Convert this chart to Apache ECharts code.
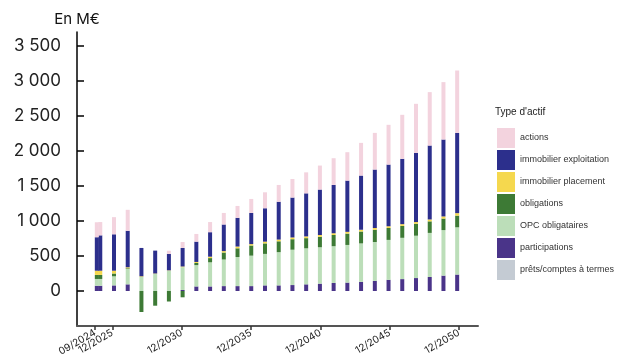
<!DOCTYPE html>
<html><head><meta charset="utf-8">
<script src="https://cdn.jsdelivr.net/npm/echarts@6/dist/echarts.min.js"></script>
<style>html,body{margin:0;padding:0;background:#fff}#c{width:629px;height:361px}</style>
</head><body><div id="c"></div>
<script>
// ---- data ----
const dates = ["09/2024","12/2024","12/2025","12/2026","12/2027","12/2028","12/2029","12/2030",
  "12/2031","12/2032","12/2033","12/2034","12/2035","12/2036","12/2037","12/2038","12/2039","12/2040",
  "12/2041","12/2042","12/2043","12/2044","12/2045","12/2046","12/2047","12/2048","12/2049","12/2050"];
const prets          = [0,0,0,0,0,0,0,0, 0,0,0,0,0,0,0,0,0,0, 0,0,0,0,0,0,0,0,0,0];
const participations = [75,75,80,95,0,0,0,15, 65,65,70,70,70,80,80,85,95,105, 115,120,130,145,160,170,185,200,220,235];
const opcOblig       = [97,97,130,220,200,243,290,325, 305,345,380,415,435,450,475,505,515,520, 525,538,550,555,570,590,605,630,650,675];
const obligations    = [58,58,40,10,-300,-210,-150,-90, 30,60,100,125,145,150,155,150,145,150, 160,162,170,175,170,170,170,165,165,167];
const immoPlacement  = [60,60,40,14,10,7,5,10, 15,20,20,25,20,25,25,25,25,25, 25,25,25,25,25,25,25,27,30,35];
const immoExploit    = [478,505,520,521,405,327,235,265, 290,350,380,410,445,477,540,570,615,649, 690,732,774,835,881,933,988,1056,1099,1147];
const actions        = [214,190,245,300,0,0,45,85, 110,145,165,170,200,228,240,265,300,343, 382,406,467,524,568,629,701,763,820,891];
const tickLabels = ["09/2024","12/2025","12/2030","12/2035","12/2040","12/2045","12/2050"];
const yTicks = [0,500,1000,1500,2000,2500,3000,3500];
const names = ["actions","immobilier exploitation","immobilier placement","obligations","OPC obligataires","participations","prêts/comptes à termes"];

// ---- helpers ----
function toTs(s){ const p = s.split('/').map(Number); return Date.UTC(p[1], p[0], 0); }
function fmtNum(v){ return v >= 1000 ? Math.floor(v/1000) + ' ' + String(v % 1000).padStart(3,'0') : String(v); }
const tickTs = tickLabels.map(toTs);
const xMin = Date.UTC(2023,5,14), xMax = Date.UTC(2052,4,15);

const colors = {
  "actions":"#f3d3de",
  "immobilier exploitation":"#2c2f8c",
  "immobilier placement":"#f5d84e",
  "obligations":"#3d7a35",
  "OPC obligataires":"#bcdeb9",
  "participations":"#4a3489",
  "prêts/comptes à termes":"#c4cbd3"
};
const stackOrder = [
  ["prêts/comptes à termes", prets],
  ["participations", participations],
  ["OPC obligataires", opcOblig],
  ["obligations", obligations],
  ["immobilier placement", immoPlacement],
  ["immobilier exploitation", immoExploit],
  ["actions", actions]
];

// label axis factory: two overlaid value axes so close labels are not hidden
function labelAxis(vals){
  return {
    type:'value', min:xMin, max:xMax, position:'bottom',
    axisLine:{ show:false, onZero:false },
    axisTick:{ show:true, customValues:vals, length:4, lineStyle:{color:'#333', width:1.5} },
    axisLabel:{ customValues:vals, rotate:30, fontSize:10, color:'#222', fontFamily:'Inter', margin:6,
      hideOverlap:false, showMinLabel:true, showMaxLabel:true,
      formatter:function(v){ const i = tickTs.indexOf(v); return i >= 0 ? tickLabels[i] : ''; } },
    splitLine:{show:false}
  };
}

const chart = echarts.init(document.getElementById('c'), null, {renderer:'canvas'});
chart.setOption({
  animation:false,
  backgroundColor:'#fff',
  title:{ text:"Type d'actif", left:495, top:107, padding:0, textStyle:{fontSize:10, fontWeight:'normal', color:'#222', fontFamily:'Liberation Sans'} },
  legend:{
    data:names, orient:'vertical', left:497, top:128, padding:0, itemWidth:18, itemHeight:20, itemGap:2, icon:'rect',
    textStyle:{fontSize:9, color:'#333', fontFamily:'Liberation Sans'}, selectedMode:false
  },
  grid:{ left:77, right:151, top:32, bottom:35 },
  xAxis:[{
    type:'time', min:xMin, max:xMax,
    axisLine:{ onZero:false, lineStyle:{ color:'#555', width:2 } },
    axisTick:{ show:false }, axisLabel:{ show:false },
    splitLine:{show:false}, minorTick:{show:false}
  },
  labelAxis(tickTs.filter(function(v,i){ return i % 2 === 0; })),
  labelAxis(tickTs.filter(function(v,i){ return i % 2 === 1; }))
  ],
  yAxis:{
    type:'value', min:-500, max:3700,
    name:'En M€', nameLocation:'end', nameGap:5,
    nameTextStyle:{ fontSize:15, color:'#111', fontFamily:'Inter' },
    axisLine:{ show:true, lineStyle:{ color:'#000', width:1.5 } },
    axisTick:{ show:true, inside:true, length:7, customValues:yTicks, lineStyle:{color:'#000', width:1.5} },
    axisLabel:{ customValues:yTicks, fontSize:17, color:'#222', fontFamily:'Inter', margin:16, formatter:fmtNum },
    splitLine:{show:false}
  },
  series: stackOrder.map(function(s){
    return {
      name:s[0], type:'bar', stack:'total', barWidth:4, xAxisIndex:0,
      itemStyle:{ color:colors[s[0]] },
      emphasis:{disabled:true},
      data: dates.map(function(d,i){ return [toTs(d), s[1][i]]; })
    };
  })
});
</script></body></html>
